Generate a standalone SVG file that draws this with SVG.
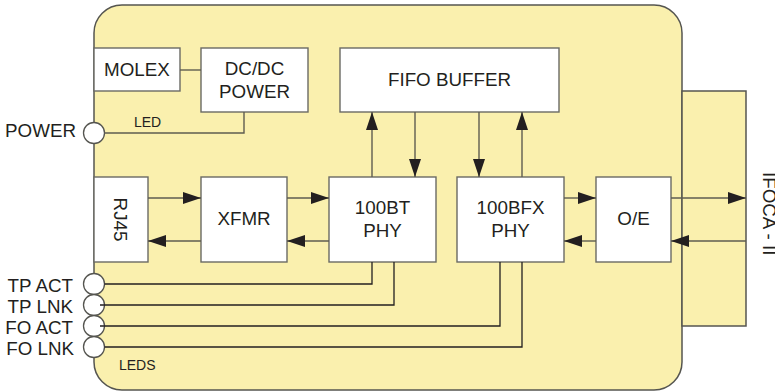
<svg xmlns="http://www.w3.org/2000/svg" width="775" height="391" viewBox="0 0 775 391">
<defs>
<style>
.bg{fill:#FAF0AE;stroke:#555550;stroke-width:1.5}
.box{fill:#ffffff;stroke:#6a6a64;stroke-width:1.4}
.led{fill:#ffffff;stroke:#555550;stroke-width:1.3}
.t{font-family:"Liberation Sans",Arial,sans-serif;font-size:18.8px;fill:#231f20}
.s{font-family:"Liberation Sans",Arial,sans-serif;font-size:14px;fill:#231f20}
.c{fill:none;stroke:#5e5c50;stroke-width:1.4}
.k{fill:none;stroke:#231f20;stroke-width:1.3}
</style>
<marker id="ah" markerUnits="userSpaceOnUse" markerWidth="18" markerHeight="12" refX="18" refY="6" orient="auto" viewBox="0 0 18 12">
<path d="M0,0 L18,6 L0,12 z" fill="#231f20"/>
</marker>
</defs>
<g id="housing">
<rect class="bg" x="94" y="5" width="588" height="385" rx="28" ry="28"/>
<rect class="bg" x="682" y="91" width="64" height="235"/>
<text class="t" transform="translate(763,172) rotate(90)">IFOCA - II</text>
<text class="s" x="134" y="127">LED</text>
<text class="s" x="119" y="370">LEDS</text>
</g>
<g id="molex"><rect class="box" x="94" y="48" width="86" height="43"/><text class="t" x="137" y="76" text-anchor="middle">MOLEX</text></g>
<g id="dcdc"><rect class="box" x="201" y="48" width="107" height="64"/><text class="t" x="254.5" y="75" text-anchor="middle">DC/DC</text><text class="t" x="254.5" y="98" text-anchor="middle">POWER</text></g>
<g id="fifo"><rect class="box" x="340" y="48" width="219" height="64"/><text class="t" x="449.5" y="86" text-anchor="middle">FIFO BUFFER</text></g>
<g id="rj45"><rect class="box" x="94" y="177" width="54" height="85"/><text class="t" transform="translate(114,219.5) rotate(90)" text-anchor="middle">RJ45</text></g>
<g id="xfmr"><rect class="box" x="201" y="177" width="86" height="85"/><text class="t" x="244" y="225" text-anchor="middle">XFMR</text></g>
<g id="phy100bt"><rect class="box" x="329" y="177" width="107" height="85"/><text class="t" x="382.5" y="214" text-anchor="middle">100BT</text><text class="t" x="382.5" y="237" text-anchor="middle">PHY</text></g>
<g id="phy100bfx"><rect class="box" x="457" y="177" width="107" height="85"/><text class="t" x="510.5" y="214" text-anchor="middle">100BFX</text><text class="t" x="510.5" y="237" text-anchor="middle">PHY</text></g>
<g id="oe"><rect class="box" x="596" y="177" width="75" height="85"/><text class="t" x="633.5" y="225" text-anchor="middle">O/E</text></g>
<g id="led-power"><circle class="led" cx="94" cy="133" r="10.5"/><text class="t" x="76" y="137" text-anchor="end">POWER</text></g>
<g id="led-tpact"><circle class="led" cx="94" cy="284" r="10.5"/><text class="t" x="73" y="292" text-anchor="end">TP ACT</text></g>
<g id="led-tplnk"><circle class="led" cx="94" cy="305" r="10.5"/><text class="t" x="73" y="313" text-anchor="end">TP LNK</text></g>
<g id="led-foact"><circle class="led" cx="94" cy="326" r="10.5"/><text class="t" x="73" y="334" text-anchor="end">FO ACT</text></g>
<g id="led-folnk"><circle class="led" cx="94" cy="347" r="10.5"/><text class="t" x="74" y="355" text-anchor="end">FO LNK</text></g>
<g id="connectors">
<path class="c" d="M180,70 H201"/>
<path class="c" d="M104.5,133 H244 V112"/>
<path class="c" d="M148,198 H201" marker-end="url(#ah)"/>
<path class="c" d="M201,241 H148" marker-end="url(#ah)"/>
<path class="c" d="M287,198 H329" marker-end="url(#ah)"/>
<path class="c" d="M329,241 H287" marker-end="url(#ah)"/>
<path class="c" d="M564,198 H596" marker-end="url(#ah)"/>
<path class="c" d="M596,241 H564" marker-end="url(#ah)"/>
<path class="c" d="M671,198 H746" marker-end="url(#ah)"/>
<path class="c" d="M746,241 H671" marker-end="url(#ah)"/>
<path class="c" d="M372,177 V112" marker-end="url(#ah)"/>
<path class="c" d="M415,112 V177" marker-end="url(#ah)"/>
<path class="c" d="M479,112 V177" marker-end="url(#ah)"/>
<path class="c" d="M522,177 V112" marker-end="url(#ah)"/>
<path class="k" d="M104.5,284 H372 V262"/>
<path class="k" d="M100,305 H394 V262"/>
<path class="k" d="M100,326 H500 V262"/>
<path class="k" d="M104.5,347 H522 V262"/>
</g>
</svg>
